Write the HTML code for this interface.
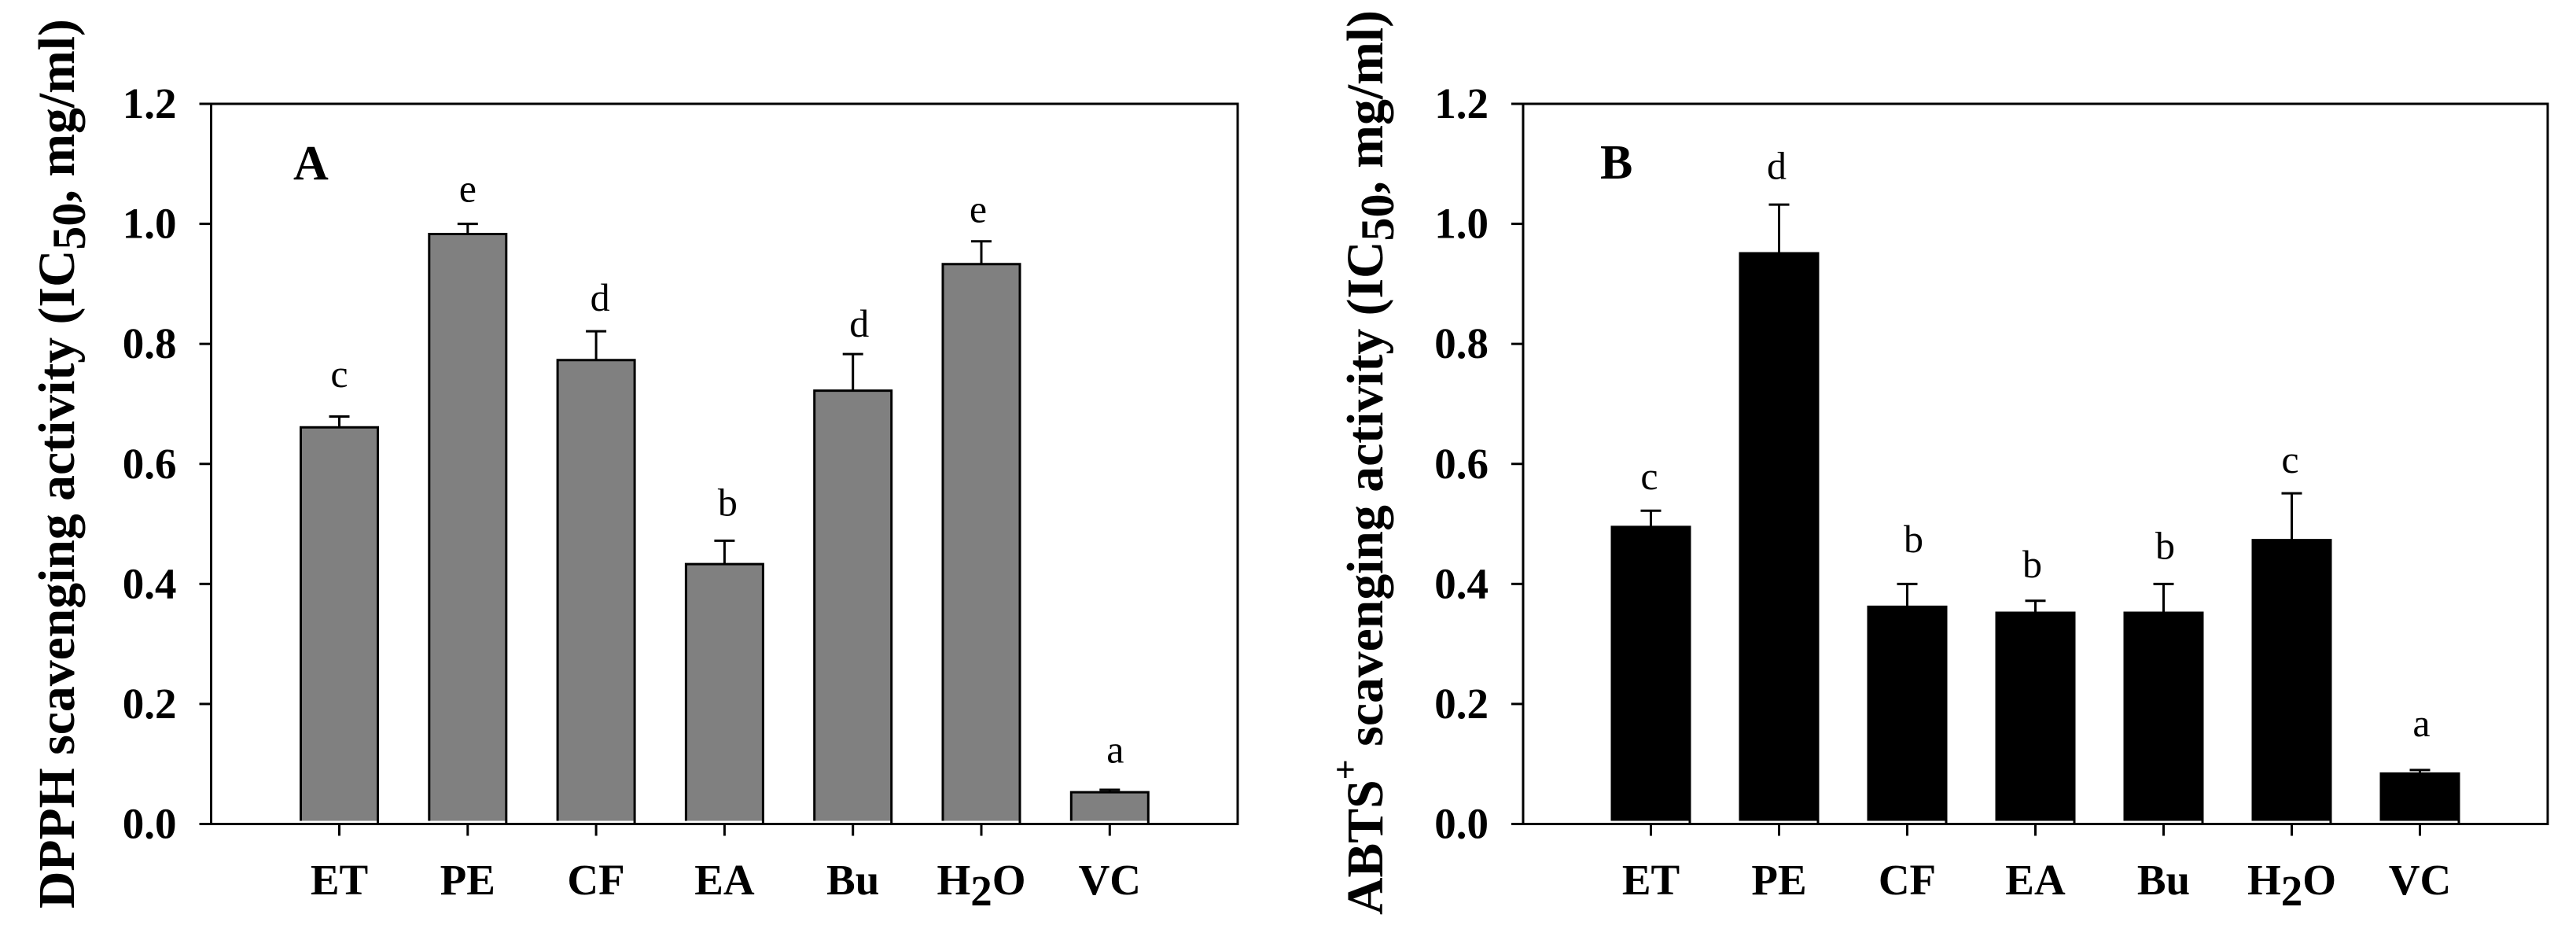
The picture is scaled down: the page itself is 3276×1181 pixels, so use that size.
<!DOCTYPE html>
<html lang="en">
<head>
<meta charset="utf-8">
<title>DPPH and ABTS scavenging activity</title>
<style>
html,body{margin:0;padding:0;background:#fff;width:3276px;height:1181px;overflow:hidden}
svg{display:block}
text{font-family:"Liberation Serif","Times New Roman",serif;fill:#000}
</style>
</head>
<body>
<svg id="figure" width="3276" height="1181" viewBox="0 0 3276 1181" xmlns="http://www.w3.org/2000/svg">
  <text transform="translate(94 1155) rotate(-90)" font-size="65.7" font-weight="bold" xml:space="preserve">DPPH scavenging activity (IC<tspan font-size="60" dy="14">50</tspan><tspan dy="-14">, mg/ml)</tspan></text>
  <text transform="translate(1758 1163) rotate(-90)" font-size="65.7" font-weight="bold" xml:space="preserve">ABTS<tspan font-size="46" dy="-32">+</tspan><tspan dy="32"> scavenging activity (IC</tspan><tspan font-size="60" dy="14">50</tspan><tspan dy="-14">, mg/ml)</tspan></text>
  <text x="373" y="228" font-size="62" font-weight="bold">A</text>
  <text x="2035" y="227" font-size="62" font-weight="bold">B</text>
</svg>
<script>
const categories = ['ET', 'PE', 'CF', 'EA', 'Bu', 'H2O', 'VC'];
const yTicks = [0, 0.2, 0.4, 0.6, 0.8, 1.0, 1.2];
const yTickLabels = ['0.0', '0.2', '0.4', '0.6', '0.8', '1.0', '1.2'];

const dpphValues = [0.661, 0.983, 0.773, 0.433, 0.722, 0.933, 0.053];
const dpphErrors = [0.018, 0.017, 0.048, 0.039, 0.061, 0.038, 0.004];
const dpphLetters = ['c', 'e', 'd', 'b', 'd', 'e', 'a'];
const dpphLetterLevels = [0.728, 1.037, 0.855, 0.514, 0.812, 1.003, 0.102];

const abtsValues = [0.495, 0.951, 0.362, 0.352, 0.352, 0.473, 0.084];
const abtsErrors = [0.027, 0.081, 0.038, 0.02, 0.048, 0.078, 0.006];
const abtsLetters = ['c', 'd', 'b', 'b', 'b', 'c', 'a'];
const abtsLetterLevels = [0.558, 1.075, 0.453, 0.411, 0.442, 0.585, 0.146];

const svg = document.getElementById('figure');
const NS = 'http://www.w3.org/2000/svg';

function make(tag, attrs, parent) {
  const el = document.createElementNS(NS, tag);
  for (const k in attrs) el.setAttribute(k, attrs[k]);
  (parent || svg).appendChild(el);
  return el;
}

function drawPanel(key, o, values, errors, letters, letterLevels) {
  const yScale = v => 1047.5 - v * (915.5 / 1.2);
  const xScale = i => o.x0 + i * o.step;
  const yBase = yScale(0);
  const yTop = yScale(1.2);
  const stroke = {stroke: '#000', 'stroke-width': 3, fill: 'none'};

  const frame = make('rect', Object.assign({x: o.left, y: yTop, width: o.right - o.left, height: yBase - yTop}, stroke));
  
  

  yTicks.forEach((t, i) => {
    const tick = make('line', Object.assign({x1: o.left - 15, x2: o.left, y1: yScale(t), y2: yScale(t)}, stroke));
    
    
    const lab = make('text', {x: o.left - 44, y: yScale(t) + 18, 'text-anchor': 'end', 'font-size': 55, 'font-weight': 'bold'});
    lab.textContent = yTickLabels[i];
    
    
  });

  categories.forEach((c, i) => {
    const cx = xScale(i);
    const top = yScale(values[i]);
    const errTop = yScale(values[i] + errors[i]);
    const id = key + '-' + c.toLowerCase();
    const half = o.barWidth / 2;

    const err = make('path', Object.assign({d: `M${cx} ${top}V${errTop}M${cx - 13} ${errTop}H${cx + 13}`}, stroke));
    
    

    const fill = make('rect', {x: cx - half, y: top, width: o.barWidth, height: yBase - 4 - top, fill: o.fill});
    
    

    const outline = make('path', Object.assign({d: `M${cx - half} ${yBase - 4}V${top}H${cx + half}V${yBase}`}, stroke));
    
    

    const tick = make('line', Object.assign({x1: cx, x2: cx, y1: yBase, y2: yBase + 15}, stroke));
    
    

    const lab = make('text', {x: cx, y: 1137, 'text-anchor': 'middle', 'font-size': 55, 'font-weight': 'bold'});
    const m = c.match(/^(\D+)(\d)(\D+)$/);
    if (m) {
      lab.appendChild(document.createTextNode(m[1]));
      const sub = make('tspan', {dy: 14}, lab);
      sub.textContent = m[2];
      const rest = make('tspan', {dy: -14}, lab);
      rest.textContent = m[3];
    } else {
      lab.textContent = c;
    }
    
    

    const sig = make('text', {x: cx + o.letterDx[i], y: yScale(letterLevels[i]), 'text-anchor': 'middle', 'font-size': 50});
    sig.textContent = letters[i];
    
    
  });
}

drawPanel('dpph', {x0: 431.5, step: 163.3, left: 268.5, right: 1574, barWidth: 98, fill: '#808080',
  letterDx: [0, 0, 5, 4, 8, -4, 7]}, dpphValues, dpphErrors, dpphLetters, dpphLetterLevels);
drawPanel('abts', {x0: 2099.5, step: 163, left: 1937, right: 3240, barWidth: 99, fill: '#000',
  letterDx: [-2, -3, 8, -4, 2, -2, 2]}, abtsValues, abtsErrors, abtsLetters, abtsLetterLevels);
</script>
</body>
</html>
